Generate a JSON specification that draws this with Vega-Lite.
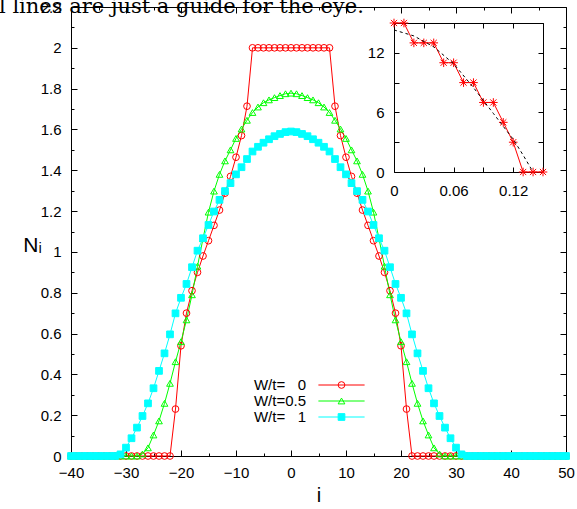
{
  "$schema": "https://vega.github.io/schema/vega-lite/v6.json",
  "width": 495,
  "height": 449,
  "autosize": "none",
  "padding": {"left": 71, "top": 7, "right": 11, "bottom": 53},
  "background": "white",
  "title": {"text": "l lines are just a guide for the eye.", "font": "DejaVu Serif", "fontSize": 21, "fontWeight": "normal", "color": "black", "anchor": "start", "frame": "group", "dx": -72, "offset": 0, "dy": 34, "baseline": "alphabetic"},
  "config": {
    "view": {"stroke": "black", "strokeWidth": 1},
    "axis": {"grid": false, "labelFont": "Liberation Sans", "labelFontSize": 15, "labelColor": "black", "tickColor": "black", "tickWidth": 1, "domainColor": "black", "domainWidth": 1, "labelFlush": false, "labelOverlap": false, "titleColor": "black", "titleFont": "Liberation Sans", "titleFontWeight": "normal", "format": "~g"}
  },
  "datasets": {
    "main": [
      {"i":-40,"W0":0,"W05":0,"W1":0},{"i":-39,"W0":0,"W05":0,"W1":0},{"i":-38,"W0":0,"W05":0,"W1":0},{"i":-37,"W0":0,"W05":0,"W1":0},{"i":-36,"W0":0,"W05":0,"W1":0},{"i":-35,"W0":0,"W05":0,"W1":0},{"i":-34,"W0":0,"W05":0,"W1":0},{"i":-33,"W0":0,"W05":0,"W1":0},{"i":-32,"W0":0,"W05":0,"W1":0},
      {"i":-31,"W0":0,"W05":0,"W1":0.008},{"i":-30,"W0":0,"W05":0,"W1":0.041},{"i":-29,"W0":0,"W05":0,"W1":0.087},{"i":-28,"W0":0,"W05":0,"W1":0.139},
      {"i":-27,"W0":0,"W05":0.01,"W1":0.196},{"i":-26,"W0":0,"W05":0.04,"W1":0.258},{"i":-25,"W0":0,"W05":0.103,"W1":0.332},{"i":-24,"W0":0,"W05":0.172,"W1":0.417},
      {"i":-23,"W0":0,"W05":0.258,"W1":0.503},{"i":-22,"W0":0,"W05":0.356,"W1":0.596},{"i":-21,"W0":0.23,"W05":0.462,"W1":0.699},{"i":-20,"W0":0.54,"W05":0.56,"W1":0.775},
      {"i":-19,"W0":0.70,"W05":0.667,"W1":0.843},{"i":-18,"W0":0.81,"W05":0.79,"W1":0.925},{"i":-17,"W0":0.90,"W05":0.93,"W1":1.006},{"i":-16,"W0":0.98,"W05":1.065,"W1":1.067},
      {"i":-15,"W0":1.055,"W05":1.195,"W1":1.132},{"i":-14,"W0":1.13,"W05":1.298,"W1":1.198},{"i":-13,"W0":1.205,"W05":1.38,"W1":1.255},{"i":-12,"W0":1.288,"W05":1.446,"W1":1.298},
      {"i":-11,"W0":1.37,"W05":1.5,"W1":1.337},{"i":-10,"W0":1.464,"W05":1.556,"W1":1.38},{"i":-9,"W0":1.57,"W05":1.602,"W1":1.415},{"i":-8,"W0":1.714,"W05":1.645,"W1":1.455},
      {"i":-7,"W0":2,"W05":1.683,"W1":1.492},{"i":-6,"W0":2,"W05":1.71,"W1":1.515},{"i":-5,"W0":2,"W05":1.731,"W1":1.535},{"i":-4,"W0":2,"W05":1.745,"W1":1.552},
      {"i":-3,"W0":2,"W05":1.756,"W1":1.567},{"i":-2,"W0":2,"W05":1.766,"W1":1.578},{"i":-1,"W0":2,"W05":1.775,"W1":1.587},{"i":0,"W0":2,"W05":1.778,"W1":1.59},
      {"i":1,"W0":2,"W05":1.775,"W1":1.587},{"i":2,"W0":2,"W05":1.766,"W1":1.578},{"i":3,"W0":2,"W05":1.756,"W1":1.567},{"i":4,"W0":2,"W05":1.745,"W1":1.552},
      {"i":5,"W0":2,"W05":1.731,"W1":1.535},{"i":6,"W0":2,"W05":1.71,"W1":1.515},{"i":7,"W0":2,"W05":1.683,"W1":1.492},{"i":8,"W0":1.714,"W05":1.645,"W1":1.455},
      {"i":9,"W0":1.57,"W05":1.602,"W1":1.415},{"i":10,"W0":1.464,"W05":1.556,"W1":1.38},{"i":11,"W0":1.37,"W05":1.5,"W1":1.337},{"i":12,"W0":1.288,"W05":1.446,"W1":1.298},
      {"i":13,"W0":1.205,"W05":1.38,"W1":1.255},{"i":14,"W0":1.13,"W05":1.298,"W1":1.198},{"i":15,"W0":1.055,"W05":1.195,"W1":1.132},{"i":16,"W0":0.98,"W05":1.065,"W1":1.067},
      {"i":17,"W0":0.90,"W05":0.93,"W1":1.006},{"i":18,"W0":0.81,"W05":0.79,"W1":0.925},{"i":19,"W0":0.70,"W05":0.667,"W1":0.843},{"i":20,"W0":0.54,"W05":0.56,"W1":0.775},
      {"i":21,"W0":0.23,"W05":0.462,"W1":0.699},{"i":22,"W0":0,"W05":0.356,"W1":0.596},{"i":23,"W0":0,"W05":0.258,"W1":0.503},{"i":24,"W0":0,"W05":0.172,"W1":0.417},
      {"i":25,"W0":0,"W05":0.103,"W1":0.332},{"i":26,"W0":0,"W05":0.04,"W1":0.258},{"i":27,"W0":0,"W05":0.01,"W1":0.196},{"i":28,"W0":0,"W05":0,"W1":0.139},
      {"i":29,"W0":0,"W05":0,"W1":0.087},{"i":30,"W0":0,"W05":0,"W1":0.041},{"i":31,"W0":0,"W05":0,"W1":0.008},
      {"i":32,"W0":0,"W05":0,"W1":0},{"i":33,"W0":0,"W05":0,"W1":0},{"i":34,"W0":0,"W05":0,"W1":0},{"i":35,"W0":0,"W05":0,"W1":0},{"i":36,"W0":0,"W05":0,"W1":0},
      {"i":37,"W0":0,"W05":0,"W1":0},{"i":38,"W0":0,"W05":0,"W1":0},{"i":39,"W0":0,"W05":0,"W1":0},{"i":40,"W0":0,"W05":0,"W1":0},{"i":41,"W0":0,"W05":0,"W1":0},
      {"i":42,"W0":0,"W05":0,"W1":0},{"i":43,"W0":0,"W05":0,"W1":0},{"i":44,"W0":0,"W05":0,"W1":0},{"i":45,"W0":0,"W05":0,"W1":0},{"i":46,"W0":0,"W05":0,"W1":0},
      {"i":47,"W0":0,"W05":0,"W1":0},{"i":48,"W0":0,"W05":0,"W1":0},{"i":49,"W0":0,"W05":0,"W1":0},{"i":50,"W0":0,"W05":0,"W1":0}
    ],
    "inset": [
      {"x":0,"y":15},{"x":0.01,"y":15},{"x":0.02,"y":13},{"x":0.03,"y":13},{"x":0.04,"y":13},{"x":0.05,"y":11},{"x":0.06,"y":11},{"x":0.07,"y":9},
      {"x":0.08,"y":9},{"x":0.09,"y":7},{"x":0.10,"y":7},{"x":0.11,"y":5},{"x":0.12,"y":3},{"x":0.13,"y":0},{"x":0.14,"y":0},{"x":0.15,"y":0}
    ],
    "fit": [
      {"x":0,"y":14.3},{"x":0.02,"y":13.7},{"x":0.04,"y":12.6},{"x":0.06,"y":10.9},{"x":0.08,"y":8.5},{"x":0.10,"y":5.9},{"x":0.12,"y":3.3},{"x":0.13,"y":1.7},{"x":0.14,"y":0}
    ]
  },
  "layer": [
    {
      "data": {"name": "main"},
      "transform": [{"fold": ["W0", "W05", "W1"], "as": ["s", "n"]}],
      "layer": [
        {
          "mark": {"type": "line", "strokeWidth": 1},
          "encoding": {
            "x": {"field": "i", "type": "quantitative", "scale": {"domain": [-40, 50], "nice": false, "zero": false},
              "axis": {"orient": "bottom", "domain": false, "values": [-40,-35,-30,-25,-20,-15,-10,-5,0,5,10,15,20,25,30,35,40,45,50],
                "labelExpr": "datum.value % 10 === 0 ? datum.label : ''",
                "tickSize": {"condition": {"test": "datum.value % 10 !== 0", "value": -3}, "value": -6},
                "labelPadding": 15, "title": "i", "titleFontSize": 20, "titlePadding": 2}},
            "y": {"field": "n", "type": "quantitative", "scale": {"domain": [0, 2.2], "nice": false, "zero": false},
              "axis": {"orient": "left", "domain": false, "values": [0,0.1,0.2,0.3,0.4,0.5,0.6,0.7,0.8,0.9,1,1.1,1.2,1.3,1.4,1.5,1.6,1.7,1.8,1.9,2,2.1,2.2],
                "labelExpr": "round(datum.value*10) % 2 === 0 ? datum.label : ''",
                "tickSize": {"condition": {"test": "round(datum.value*10) % 2 !== 0", "value": -3}, "value": -6},
                "labelPadding": 16, "title": "Nᵢ", "titleFont": "Liberation Sans, DejaVu Sans", "titleFontSize": 21, "titleAngle": 0, "titleAlign": "center", "titleBaseline": "middle", "titleX": -39, "titleY": 238}},
            "color": {"field": "s", "type": "nominal",
              "scale": {"domain": ["W0", "W05", "W1"], "range": ["#ff0000", "#00ff00", "#00ffff"]},
              "legend": {"orient": "none", "legendX": 243, "legendY": 370.5, "title": null, "padding": 0,
                "labelExpr": "datum.value === 'W0' ? 'W/t=\u00a0\u00a0\u00a00' : datum.value === 'W05' ? 'W/t=0.5' : 'W/t=\u00a0\u00a0\u00a01'",
                "labelAlign": "right", "labelFont": "Liberation Sans", "labelFontSize": 15, "labelColor": "black", "labelOffset": -43,
                "symbolType": "M-6.6,0H6.6", "symbolOffset": 20, "symbolSize": 49, "symbolStrokeWidth": 1, "rowPadding": 0}}
          }
        },
        {
          "mark": {"type": "point", "filled": true, "size": 45, "strokeWidth": 1, "opacity": 1},
          "encoding": {
            "x": {"field": "i", "type": "quantitative", "scale": {"domain": [-40, 50], "nice": false, "zero": false},
              "axis": {"orient": "top", "domain": false, "labels": false, "title": null, "values": [-40,-35,-30,-25,-20,-15,-10,-5,0,5,10,15,20,25,30,35,40,45,50],
                "tickSize": {"condition": {"test": "datum.value % 10 !== 0", "value": -3}, "value": -6}}},
            "y": {"field": "n", "type": "quantitative", "scale": {"domain": [0, 2.2], "nice": false, "zero": false},
              "axis": {"orient": "right", "domain": false, "labels": false, "title": null, "values": [0,0.1,0.2,0.3,0.4,0.5,0.6,0.7,0.8,0.9,1,1.1,1.2,1.3,1.4,1.5,1.6,1.7,1.8,1.9,2,2.1,2.2],
                "tickSize": {"condition": {"test": "round(datum.value*10) % 2 !== 0", "value": -3}, "value": -6}}},
            "stroke": {"field": "s", "type": "nominal", "scale": {"range": ["#ff0000", "#00ff00", "#00ffff"]},
              "legend": {"orient": "none", "legendX": 243, "legendY": 370.5, "title": null, "padding": 0, "labelExpr": "datum.value === 'W0' ? 'W/t=\u00a0\u00a0\u00a00' : datum.value === 'W05' ? 'W/t=0.5' : 'W/t=\u00a0\u00a0\u00a01'", "labelAlign": "right", "labelFontSize": 15, "labelOpacity": 0, "labelOffset": -43, "symbolOffset": 20, "symbolSize": 45, "symbolStrokeWidth": 1, "rowPadding": 0}},
            "fill": {"field": "s", "type": "nominal", "scale": {"range": ["transparent", "transparent", "#00ffff"]},
              "legend": {"orient": "none", "legendX": 243, "legendY": 370.5, "title": null, "padding": 0, "labelExpr": "datum.value === 'W0' ? 'W/t=\u00a0\u00a0\u00a00' : datum.value === 'W05' ? 'W/t=0.5' : 'W/t=\u00a0\u00a0\u00a01'", "labelAlign": "right", "labelFontSize": 15, "labelOpacity": 0, "labelOffset": -43, "symbolOffset": 20, "symbolSize": 45, "symbolStrokeWidth": 1, "rowPadding": 0}},
            "shape": {"field": "s", "type": "nominal", "scale": {"range": ["circle", "triangle-up", "square"]},
              "legend": {"orient": "none", "legendX": 243, "legendY": 370.5, "title": null, "padding": 0, "labelExpr": "datum.value === 'W0' ? 'W/t=\u00a0\u00a0\u00a00' : datum.value === 'W05' ? 'W/t=0.5' : 'W/t=\u00a0\u00a0\u00a01'", "labelAlign": "right", "labelFontSize": 15, "labelOpacity": 0, "labelOffset": -43, "symbolOffset": 20, "symbolSize": 45, "symbolStrokeWidth": 1, "rowPadding": 0}},
            "order": {"field": "s"}
          }
        }
      ],
      "resolve": {"axis": {"x": "independent", "y": "independent"}}
    },
    {
      "layer": [
        {
          "data": {"name": "inset"},
          "mark": {"type": "line", "color": "#ff0000", "strokeWidth": 1},
          "encoding": {
            "x": {"field": "x", "type": "quantitative", "scale": {"domain": [0, 0.15], "range": [323, 472], "nice": false, "zero": false},
              "axis": {"orient": "bottom", "offset": -284, "values": [0,0.03,0.06,0.09,0.12,0.15], "labelExpr": "round(datum.value*100) % 6 === 0 && datum.value < 0.14 ? datum.label : ''", "tickSize": -5, "labelPadding": 16, "title": null}},
            "y": {"field": "y", "type": "quantitative", "scale": {"domain": [0, 15], "range": [165, 16], "nice": false, "zero": false},
              "axis": {"orient": "left", "offset": -323, "values": [0,3,6,9,12,15], "labelExpr": "datum.value % 6 === 0 ? datum.label : ''", "tickSize": -5, "labelPadding": 15, "title": null}}
          }
        },
        {
          "data": {"name": "inset"},
          "mark": {"type": "point", "shape": "M-1,0H1M0,-1V1M-0.72,-0.72L0.72,0.72M-0.72,0.72L0.72,-0.72", "size": 74, "filled": false, "color": "#ff0000", "strokeWidth": 1, "opacity": 1},
          "encoding": {
            "x": {"field": "x", "type": "quantitative", "scale": {"domain": [0, 0.15], "range": [323, 472], "nice": false, "zero": false},
              "axis": {"orient": "top", "offset": -16, "values": [0,0.03,0.06,0.09,0.12,0.15], "labels": false, "tickSize": -5, "title": null}},
            "y": {"field": "y", "type": "quantitative", "scale": {"domain": [0, 15], "range": [165, 16], "nice": false, "zero": false},
              "axis": {"orient": "right", "offset": -23, "values": [0,3,6,9,12,15], "labels": false, "tickSize": -5, "title": null}}
          }
        },
        {
          "data": {"name": "fit"},
          "mark": {"type": "line", "color": "black", "strokeWidth": 1, "strokeDash": [3, 3]},
          "encoding": {
            "x": {"field": "x", "type": "quantitative", "scale": {"domain": [0, 0.15], "range": [323, 472], "nice": false, "zero": false}, "axis": null},
            "y": {"field": "y", "type": "quantitative", "scale": {"domain": [0, 15], "range": [165, 16], "nice": false, "zero": false}, "axis": null}
          }
        }
      ],
      "resolve": {"axis": {"x": "independent", "y": "independent"}}
    }
  ],
  "resolve": {"scale": {"x": "independent", "y": "independent"}, "axis": {"x": "independent", "y": "independent"}}
}
